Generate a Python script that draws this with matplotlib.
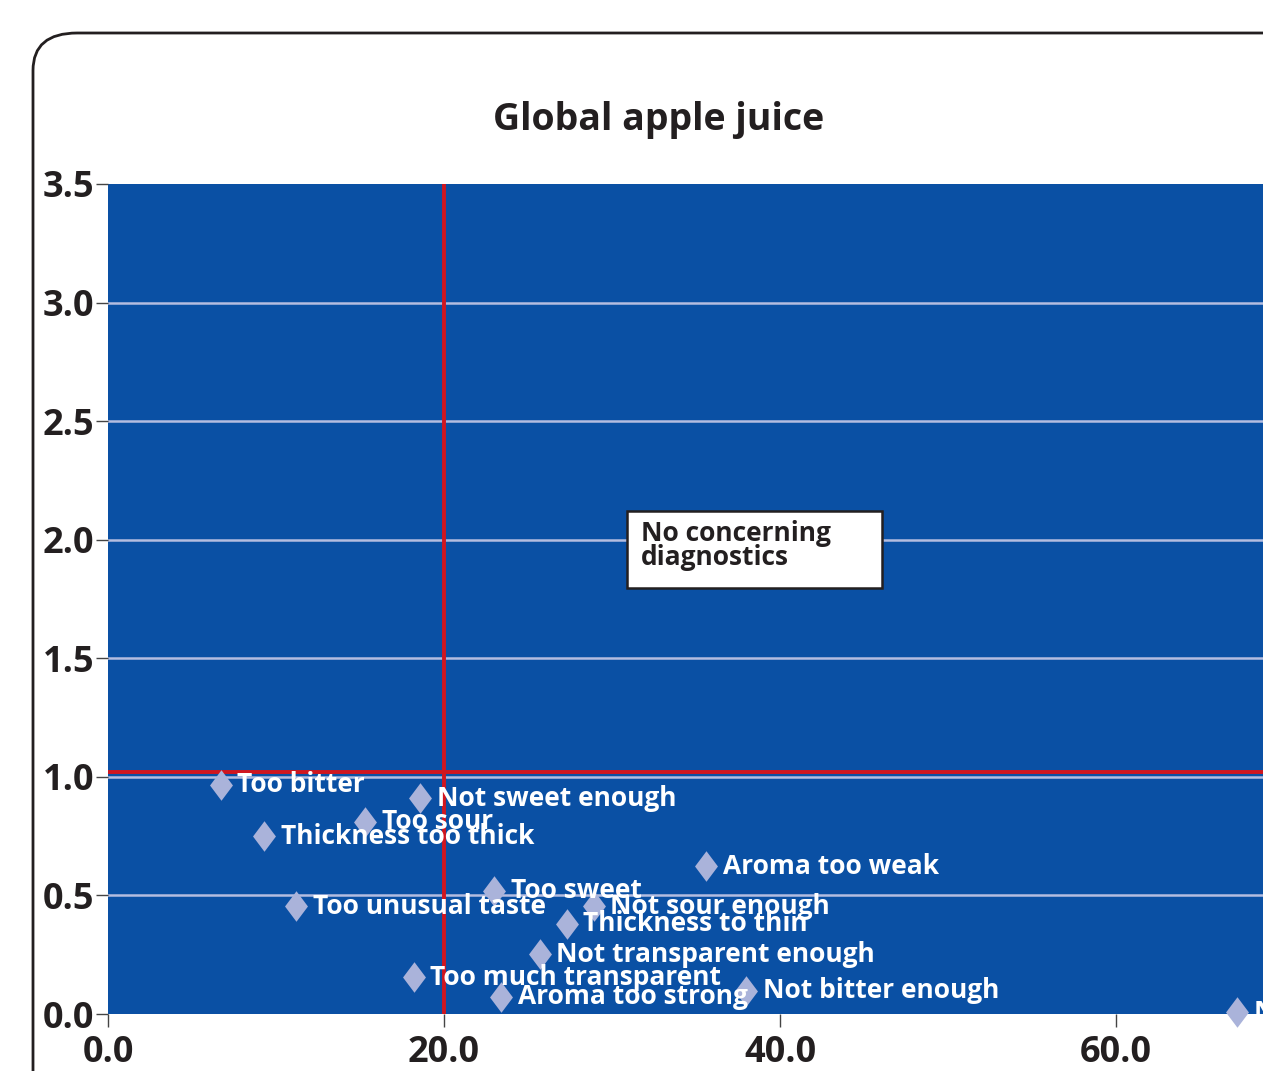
import numpy as np
import matplotlib.pyplot as plt
from matplotlib.patches import FancyBboxPatch, Rectangle
from matplotlib.path import Path

# data
labels = ["Too bitter", "Not sweet enough", "Too sour", "Thickness too thick",
          "Aroma too weak", "Too sweet", "Too unusual taste", "Not sour enough",
          "Thickness to thin", "Not transparent enough", "Too much transparent",
          "Aroma too strong", "Not bitter enough", "Not unusual enough"]
x_vals = [6.7, 18.6, 15.3, 9.3, 35.6, 23.0, 11.2, 28.9, 27.3, 25.7, 18.2, 23.4, 38.0, 67.2]
y_vals = [0.966, 0.91, 0.81, 0.75, 0.624, 0.52, 0.455, 0.455, 0.38, 0.253, 0.156, 0.072, 0.097, 0.008]

x_ticks = [0, 20, 40, 60, 80]
y_ticks = [0.0, 0.5, 1.0, 1.5, 2.0, 2.5, 3.0, 3.5]
x_ref = 20.0
y_ref = 1.02

bg = '#0a50a4'
dark = '#231f20'
pt_col = '#aab3da'
red = '#d0161f'
font = ['Open Sans', 'DejaVu Sans']

fig = plt.figure(figsize=(12.63, 10.71), dpi=100)

# rounded frame, goes off the canvas on the right and bottom
frame = FancyBboxPatch((33 / 1263, -0.2), 1.2, (1071 - 33) / 1071 + 0.2,
                       boxstyle="round,pad=0,rounding_size=0.035",
                       transform=fig.transFigure, fc='white', ec=dark, lw=2, zorder=-5)
fig.patches.append(frame)

ax = fig.add_axes([108 / 1263, 57 / 1071, 80 * 16.8 / 1263, 830 / 1071])
ax.set_zorder(2)
ax.set_facecolor(bg)
ax.set_xlim(0, 80)
ax.set_ylim(0, 3.5)
for s in ax.spines.values():
    s.set_visible(False)

for yt in y_ticks[1:-1]:
    ax.axhline(yt, color='#b4bde0', lw=1.8, zorder=1)

ax.axvline(x_ref, color=red, lw=2.8, zorder=2)
ax.axhline(y_ref, color=red, lw=2.8, zorder=2)

diamond = Path([(0, 1), (0.75, 0), (0, -1), (-0.75, 0), (0, 1)],
               [Path.MOVETO, Path.LINETO, Path.LINETO, Path.LINETO, Path.CLOSEPOLY])
ax.plot(x_vals, y_vals, linestyle='none', marker=diamond, ms=22,
        color=pt_col, mec='none', zorder=3, clip_on=False)
for lab, xv, yv in zip(labels, x_vals, y_vals):
    ax.annotate(lab, (xv, yv), xytext=(12, 0), textcoords='offset points',
                va='center', ha='left', color='white', fontsize=19,
                fontweight='bold', family=font, zorder=4, annotation_clip=False)

ax.set_xticks(x_ticks)
ax.set_yticks(y_ticks)
ax.set_xticklabels(['%.1f' % v for v in x_ticks])
ax.set_yticklabels(['%.1f' % v for v in y_ticks])
ax.tick_params(direction='out', length=9, width=1, color='#444444',
               labelsize=26, labelcolor=dark)
ax.tick_params(axis='x', pad=6)
ax.tick_params(axis='y', pad=1)
for t in ax.get_xticklabels() + ax.get_yticklabels():
    t.set_fontweight('bold')
    t.set_family(font)

# note box
ax.add_patch(Rectangle((30.9, 1.795), 15.2, 0.325, fc='white', ec=dark, lw=1.8, zorder=5))
ax.text(31.7, 2.085, "No concerning\ndiagnostics", va='top', ha='left', color=dark,
        fontsize=19, fontweight='bold', family=font, linespacing=0.9, zorder=6)

fig.text(659 / 1263, 1 - 120 / 1071, "Global apple juice", ha='center', va='center',
         color=dark, fontsize=27, fontweight='bold', family=font)

fig.savefig('out.png', dpi=100)
